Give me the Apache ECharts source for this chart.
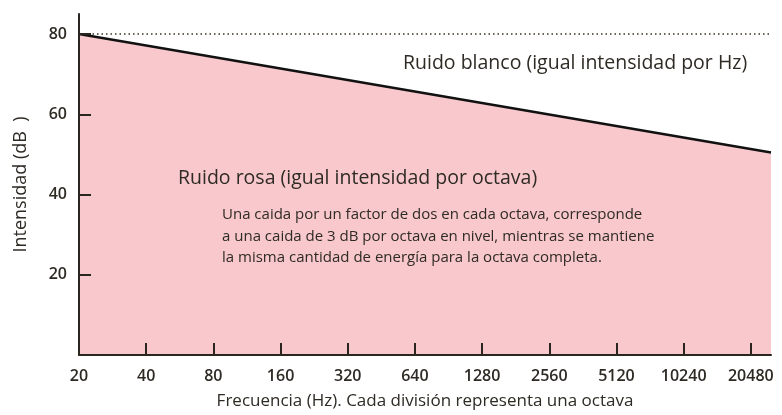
<!DOCTYPE html>
<html><head><meta charset="utf-8">
<script src="https://cdn.jsdelivr.net/npm/echarts@6/dist/echarts.min.js"></script>
<style>html,body{margin:0;padding:0;background:#fff}#c{width:782px;height:415px}</style>
</head><body><div id="c"></div>
<script>
var freqLabels = ['20','40','80','160','320','640','1280','2560','5120','10240','20480'];
var pinkX = [0, 10.3];
var pinkDb = [80, 50.5];
var whiteX = [0, 10.3];
var whiteDb = [80, 80];
var yTicks = [20, 40, 60, 80];

var FONT = '"Open Sans", "DejaVu Sans", sans-serif';
var TXT = '#2e2a24';
var chart = echarts.init(document.getElementById('c'));
chart.setOption({
  animation: false,
  backgroundColor: '#ffffff',
  grid: {left: 79, top: 14, right: 11, bottom: 59, containLabel: false},
  xAxis: {
    type: 'value', min: 0, max: 10.3, interval: 1, z: 10,
    name: 'Frecuencia (Hz). Cada división representa una octava',
    nameLocation: 'middle', nameGap: 38,
    nameTextStyle: {color: TXT, fontSize: 17, fontFamily: FONT},
    axisLine: {lineStyle: {color: '#2b2520', width: 2}},
    axisTick: {inside: true, length: 12, lineStyle: {color: '#2b2520', width: 2}},
    axisLabel: {color: TXT, fontSize: 16, fontFamily: FONT, fontWeight: 600, margin: 13,
      showMaxLabel: false,
      formatter: function (v) { var i = Math.round(v); return (Math.abs(v - i) < 1e-6 && freqLabels[i]) ? freqLabels[i] : ''; }},
    splitLine: {show: false}
  },
  yAxis: {
    type: 'value', min: 0, max: 85, interval: 20, z: 10,
    name: 'Intensidad (dB  )', nameLocation: 'middle', nameGap: 49, nameRotate: 90,
    nameTextStyle: {color: TXT, fontSize: 18, fontFamily: FONT, fontWeight: 500},
    axisLine: {lineStyle: {color: '#2b2520', width: 2}},
    axisTick: {inside: true, length: 12, lineStyle: {color: '#2b2520', width: 2}},
    axisLabel: {color: TXT, fontSize: 16, fontFamily: FONT, fontWeight: 600, margin: 12,
      showMaxLabel: false,
      formatter: function (v) { return yTicks.indexOf(v) >= 0 ? String(v) : ''; }},
    splitLine: {show: false}
  },
  series: [
    {
      type: 'line', symbol: 'none', z: 2,
      data: pinkX.map(function (x, i) { return [x, pinkDb[i]]; }),
      lineStyle: {color: '#111111', width: 2.5},
      areaStyle: {color: '#f8c8cc', opacity: 1}
    },
    {
      type: 'line', symbol: 'none', z: 3,
      data: whiteX.map(function (x, i) { return [x, whiteDb[i]]; }),
      lineStyle: {color: '#3a3020', width: 1.6, type: [1.5, 3]}
    }
  ],
  graphic: [
    {type: 'text', z: 100, left: 403, top: 53, style: {text: 'Ruido blanco (igual intensidad por Hz)', fill: TXT, font: '19.5px ' + FONT}},
    {type: 'text', z: 100, left: 178, top: 168, style: {text: 'Ruido rosa (igual intensidad por octava)', fill: TXT, font: '19.5px ' + FONT}},
    {type: 'text', z: 100, left: 222, top: 204, style: {
      text: 'Una caida por un factor de dos en cada octava, corresponde\na una caida de 3 dB por octava en nivel, mientras se mantiene\nla misma cantidad de energía para la octava completa.',
      fill: TXT, font: '15px ' + FONT, lineHeight: 21.5}}
  ]
});
</script></body></html>
